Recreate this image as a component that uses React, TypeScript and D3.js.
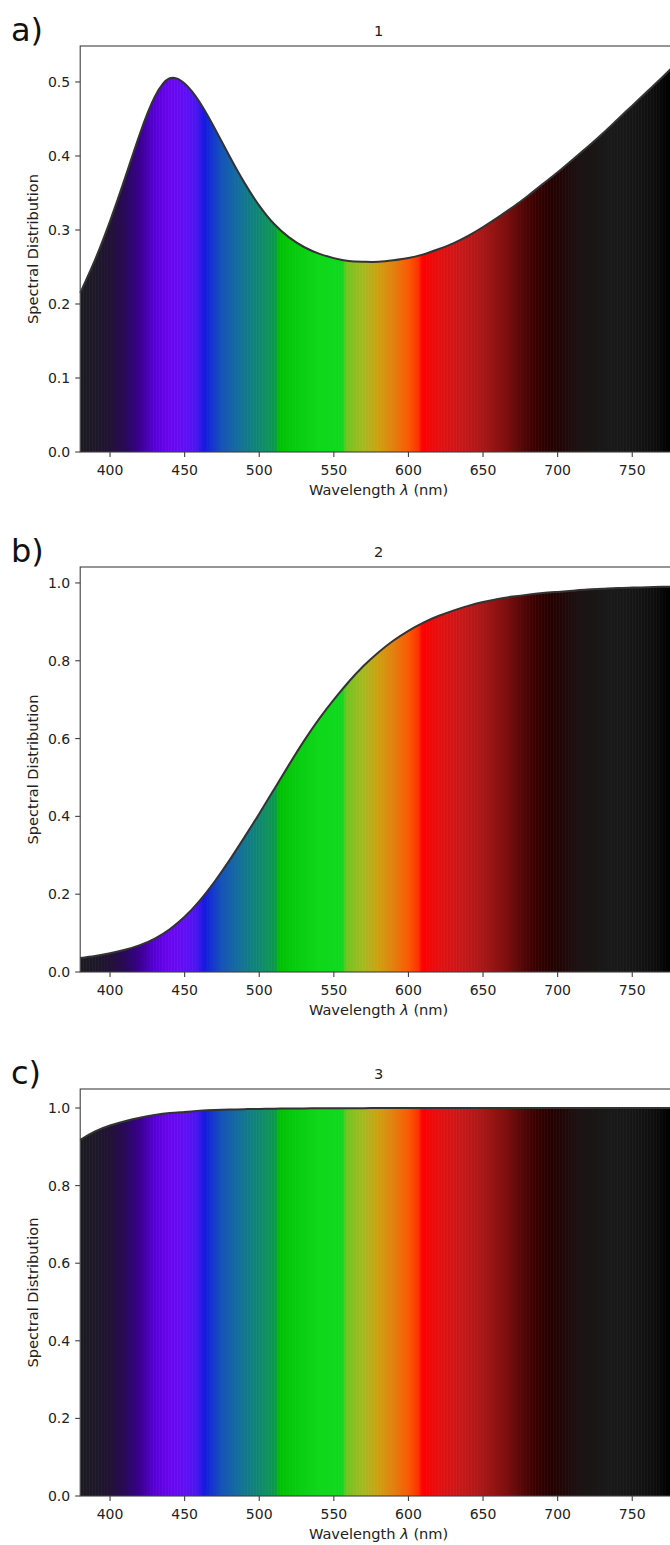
import React from "react";
import * as d3 from "d3";

// Sample wavelengths (nm) of the three spectral distributions
const WAVELENGTHS: number[] = d3.range(380, 781, 10);

// Spectral distribution 1: blue peak with rising red tail
const SD_1: number[] = [
  0.215, 0.260, 0.312, 0.370, 0.430, 0.480, 0.505, 0.498, 0.473, 0.438,
  0.400, 0.364, 0.333, 0.308, 0.290, 0.277, 0.268, 0.262, 0.258, 0.257,
  0.257, 0.259, 0.262, 0.267, 0.274, 0.282, 0.292, 0.304, 0.317, 0.331,
  0.346, 0.362, 0.378, 0.395, 0.412, 0.430, 0.449, 0.468, 0.487, 0.506,
  0.526,
];

// Spectral distribution 2: smooth step towards long wavelengths
const SD_2: number[] = [
  0.036, 0.041, 0.048, 0.057, 0.069, 0.086, 0.110, 0.142, 0.183, 0.232,
  0.287, 0.346, 0.407, 0.470, 0.533, 0.594, 0.650, 0.700, 0.746, 0.787,
  0.822, 0.852, 0.877, 0.898, 0.915, 0.929, 0.941, 0.951, 0.959, 0.965,
  0.970, 0.974, 0.977, 0.980, 0.983, 0.985, 0.987, 0.988, 0.989, 0.990,
  0.991,
];

// Spectral distribution 3: nearly flat, slight drop in the violet
const SD_3: number[] = [
  0.918, 0.940, 0.955, 0.966, 0.975, 0.982, 0.987, 0.990, 0.993, 0.995,
  0.996, 0.997, 0.9977, 0.9983, 0.9987, 0.999, 0.9993, 0.9995, 0.9996, 0.9997,
  0.9998, 0.9998, 0.9999, 0.9999, 1.0, 1.0, 1.0, 1.0, 1.0, 1.0,
  1.0, 1.0, 1.0, 1.0, 1.0, 1.0, 1.0, 1.0, 1.0, 1.0,
  1.0,
];

const TITLES: string[] = ["1", "2", "3"];
const LETTERS: string[] = ["a)", "b)", "c)"];
const X_TICKS: number[] = [400, 450, 500, 550, 600, 650, 700, 750];
const Y_TICKS_1: number[] = [0, 0.1, 0.2, 0.3, 0.4, 0.5];
const Y_TICKS_2: number[] = [0, 0.2, 0.4, 0.6, 0.8, 1.0];

// Display colour of each wavelength (nm -> sRGB)
const SPECTRUM_NM: number[] = [
  380, 390, 400, 410, 420, 430, 440, 450, 458, 463, 468, 475, 485, 495, 505,
  511, 513, 525, 540, 556, 558, 570, 580, 590, 600, 607, 609, 620, 635, 650,
  665, 675, 685, 695, 705, 715, 735, 750, 765, 775, 780,
];
const SPECTRUM_RGB: string[] = [
  "#1c1a22", "#1e1828", "#221236", "#2a0a5a", "#3a0090", "#5800d8", "#6a05f0",
  "#6010f5", "#4a15f0", "#1518e0", "#1535d0", "#1555b8", "#156ca0", "#108080",
  "#109060", "#0a9a48", "#00c000", "#08cc10", "#10d81a", "#10d820", "#70c420",
  "#a8b820", "#cfa010", "#e38010", "#fa5a05", "#ff3000", "#ff0000", "#e51010",
  "#c81818", "#a81818", "#801010", "#5a0808", "#3a0000", "#250000", "#200808",
  "#1c1414", "#1a1a1a", "#161616", "#0e0e0e", "#000000", "#000000",
];

const W = 670;
const H = 1545;
const X_LEFT = 80.2;
const X_RIGHT = 677;
const FONT = "'DejaVu Sans', sans-serif";
const INK = "#222222";
const SPINE = "#404040";
const TICK_FS = 14;
const LABEL_FS = 14.6;

const x = d3.scaleLinear().domain([380, 780]).range([X_LEFT, X_RIGHT]);
const spectrum = d3
  .scaleLinear<string>()
  .domain(SPECTRUM_NM)
  .range(SPECTRUM_RGB)
  .interpolate(d3.interpolateRgb)
  .clamp(true);

const BAR_NM: number[] = d3.range(380, 780, 1);

type PanelProps = {
  idx: number;
  top: number;
  bottom: number;
  yMax: number;
  yTicks: number[];
  values: number[];
};

function Panel({ idx, top, bottom, yMax, yTicks, values }: PanelProps) {
  const y = d3.scaleLinear().domain([0, yMax]).range([bottom, top]);
  const pts: [number, number][] = WAVELENGTHS.map((w, i) => [w, values[i]]);
  const curve = d3.curveNatural;
  const area = d3
    .area<[number, number]>()
    .x((d) => x(d[0]))
    .y0(bottom)
    .y1((d) => y(d[1]))
    .curve(curve);
  const line = d3
    .line<[number, number]>()
    .x((d) => x(d[0]))
    .y((d) => y(d[1]))
    .curve(curve);
  const clipId = `sd-clip-${idx}`;
  const midX = (X_LEFT + X_RIGHT) / 2;
  const midY = (top + bottom) / 2;
  const fmt = (v: number) => v.toFixed(1);

  return (
    <g>
      <defs>
        <clipPath id={clipId}>
          <path d={area(pts) || ""} />
        </clipPath>
      </defs>
      <g clipPath={`url(#${clipId})`}>
        {BAR_NM.map((w) => (
          <rect
            key={w}
            x={x(w)}
            y={top}
            width={x(w + 1) - x(w) + 0.6}
            height={bottom - top}
            fill={spectrum(w + 0.5)}
          />
        ))}
      </g>
      <path d={line(pts) || ""} fill="none" stroke="#333333" strokeWidth={2} />
      <rect
        x={X_LEFT}
        y={top}
        width={X_RIGHT - X_LEFT}
        height={bottom - top}
        fill="none"
        stroke={SPINE}
        strokeWidth={1.1}
      />
      {/* y axis */}
      {yTicks.map((t) => (
        <g key={`y${t}`}>
          <line x1={X_LEFT - 5} x2={X_LEFT} y1={y(t)} y2={y(t)} stroke={SPINE} strokeWidth={1.1} />
          <text
            x={X_LEFT - 10}
            y={y(t)}
            dy="0.36em"
            textAnchor="end"
            fontSize={TICK_FS}
            fontFamily={FONT}
            fill={INK}
          >
            {fmt(t)}
          </text>
        </g>
      ))}
      {/* x axis */}
      {X_TICKS.map((t) => (
        <g key={`x${t}`}>
          <line x1={x(t)} x2={x(t)} y1={bottom} y2={bottom + 5} stroke={SPINE} strokeWidth={1.1} />
          <text
            x={x(t)}
            y={bottom + 23}
            textAnchor="middle"
            fontSize={TICK_FS}
            fontFamily={FONT}
            fill={INK}
          >
            {t}
          </text>
        </g>
      ))}
      <text
        x={midX}
        y={bottom + 43}
        textAnchor="middle"
        fontSize={LABEL_FS}
        fontFamily={FONT}
        fill={INK}
      >
        Wavelength <tspan fontStyle="italic">λ</tspan> (nm)
      </text>
      <text
        transform={`translate(37.5,${midY}) rotate(-90)`}
        textAnchor="middle"
        fontSize={LABEL_FS}
        fontFamily={FONT}
        fill={INK}
      >
        Spectral Distribution
      </text>
      <text
        x={midX}
        y={top - 10}
        textAnchor="middle"
        fontSize={LABEL_FS}
        fontFamily={FONT}
        fill={INK}
      >
        {TITLES[idx]}
      </text>
      <text x={11} y={top - 5} fontSize={32} fontFamily={FONT} fill="#111">
        {LETTERS[idx]}
      </text>
    </g>
  );
}

export default function App() {
  return (
    <svg
      width={W}
      height={H}
      style={{ position: "absolute", left: 0, top: 0, display: "block", background: "#fff" }}
    >
      <rect x={0} y={0} width={W} height={H} fill="#ffffff" />
      <Panel idx={0} top={46} bottom={452} yMax={0.5486} yTicks={Y_TICKS_1} values={SD_1} />
      <Panel idx={1} top={567} bottom={972} yMax={1.041} yTicks={Y_TICKS_2} values={SD_2} />
      <Panel idx={2} top={1089} bottom={1496} yMax={1.049} yTicks={Y_TICKS_2} values={SD_3} />
    </svg>
  );
}
